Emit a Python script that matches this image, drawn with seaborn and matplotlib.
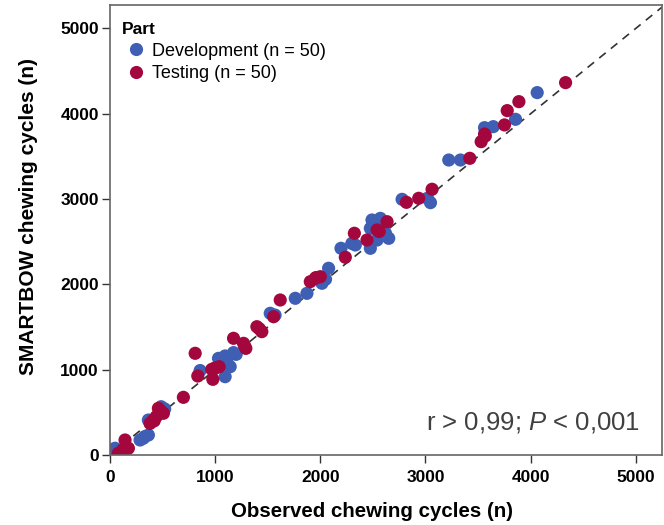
import numpy as np
import pandas as pd
import matplotlib
matplotlib.use("Agg")
import matplotlib.pyplot as plt
import seaborn as sns

# Development (blue) points: observed, smartbow
dev_obs = [4063, 3857, 3645, 3562, 3333, 3222, 3048, 3020, 2778, 2571,
           2492, 2651, 2540, 2476, 2476, 2333, 2197, 2079, 2016, 1873,
           1762, 1524, 1570, 1032, 1095, 1175, 1143, 1095, 1048, 857,
           486, 365, 317, 365, 286, 48, 30, 2620, 2560, 1110,
           1070, 330, 1200, 2050, 2500, 520, 60, 2300, 3580, 2610]
dev_sb = [4248, 3935, 3849, 3837, 3458, 3458, 2958, 3010, 2997, 2774,
          2755, 2540, 2520, 2423, 2657, 2462, 2423, 2189, 2013, 1895,
          1837, 1661, 1640, 1133, 1161, 1200, 1035, 918, 1055, 990,
          566, 410, 196, 234, 176, 79, 20, 2600, 2560, 1110,
          1100, 215, 1180, 2060, 2700, 540, 40, 2480, 3820, 2720]

# Testing (red) points
test_obs = [4333, 3889, 3778, 3752, 3562, 3530, 3422, 3063, 2936, 2819,
            2635, 2540, 2444, 2324, 2238, 2000, 1952, 1905, 1619, 1556,
            1397, 1444, 1175, 1270, 1292, 810, 835, 978, 968, 1038,
            698, 460, 508, 413, 381, 143, 175, 124, 79, 1000,
            420, 480, 1420, 1960, 2560, 3570, 120, 1280, 990, 440]
test_sb = [4365, 4142, 4037, 3869, 3763, 3673, 3478, 3115, 3009, 2962,
           2735, 2638, 2520, 2599, 2318, 2090, 2071, 2032, 1817, 1621,
           1504, 1446, 1368, 1309, 1250, 1192, 926, 887, 1004, 1035,
           676, 547, 489, 410, 370, 176, 79, 39, 20, 1020,
           400, 520, 1480, 2080, 2620, 3740, 60, 1280, 1010, 450]

groups = ["Development (n = 50)", "Testing (n = 50)"]
colors = ["#3F5FB5", "#A3073E"]

x_ticks = [0, 1000, 2000, 3000, 4000, 5000]
y_ticks = [0, 1000, 2000, 3000, 4000, 5000]

df = pd.DataFrame({
    "obs": dev_obs + test_obs,
    "sb": dev_sb + test_sb,
    "Part": [groups[0]] * len(dev_obs) + [groups[1]] * len(test_obs),
})

sns.set_style("white")
plt.rcParams["font.family"] = ["Liberation Sans", "DejaVu Sans"]
plt.rcParams["mathtext.fontset"] = "custom"
plt.rcParams["mathtext.rm"] = "Liberation Sans"
plt.rcParams["mathtext.it"] = "Liberation Sans:italic"
plt.rcParams["text.color"] = "black"
plt.rcParams["axes.labelcolor"] = "black"
plt.rcParams["xtick.color"] = "black"
plt.rcParams["ytick.color"] = "black"

fig = plt.figure(figsize=(6.64, 5.25), dpi=100)
ax = fig.add_axes([110 / 664, 1 - 455 / 525, 552 / 664, 450 / 525])

xmax, ymax = 5250, 5275
ax.plot([0, xmax], [0, xmax], ls=(0, (5, 4)), color="#333333", lw=1.2, zorder=1)

sns.scatterplot(data=df, x="obs", y="sb", hue="Part", hue_order=groups,
                palette=colors, s=90, linewidth=0, ax=ax, zorder=2)

ax.set_xlim(0, xmax)
ax.set_ylim(0, ymax)
ax.set_xticks(x_ticks)
ax.set_yticks(y_ticks)
ax.set_xticklabels([str(t) for t in x_ticks], fontsize=12.5, fontweight="bold")
ax.set_yticklabels([str(t) for t in y_ticks], fontsize=12.5, fontweight="bold")
ax.tick_params(axis="both", which="major", direction="out", length=6, width=1,
               color="#333333", bottom=True, left=True, pad=2)
ax.tick_params(axis="x", pad=5)
for sp in ax.spines.values():
    sp.set_color("#666666")
    sp.set_linewidth(1.2)

ax.set_xlabel("Observed chewing cycles (n)", fontsize=14.8, fontweight="bold")
ax.set_ylabel("SMARTBOW chewing cycles (n)", fontsize=15, fontweight="bold")
ax.xaxis.set_label_coords(0.475, -0.105)
ax.yaxis.set_label_coords(-0.130, 0.53)

leg = ax.legend(title="Part", loc="upper left", bbox_to_anchor=(0.005, 0.982),
                frameon=False, fontsize=13, title_fontsize=12.5,
                handlelength=1.6, handletextpad=0.1, borderaxespad=0.0,
                borderpad=0.5, labelspacing=0.3, markerscale=1.0)
leg._legend_box.align = "left"
leg.get_title().set_fontweight("bold")

ax.text(0.96, 0.073, r"r > 0,99; $\mathit{P}$ < 0,001", transform=ax.transAxes,
        ha="right", va="center", fontsize=18.5, color="#404040")

fig.savefig("out.png", dpi=100)
